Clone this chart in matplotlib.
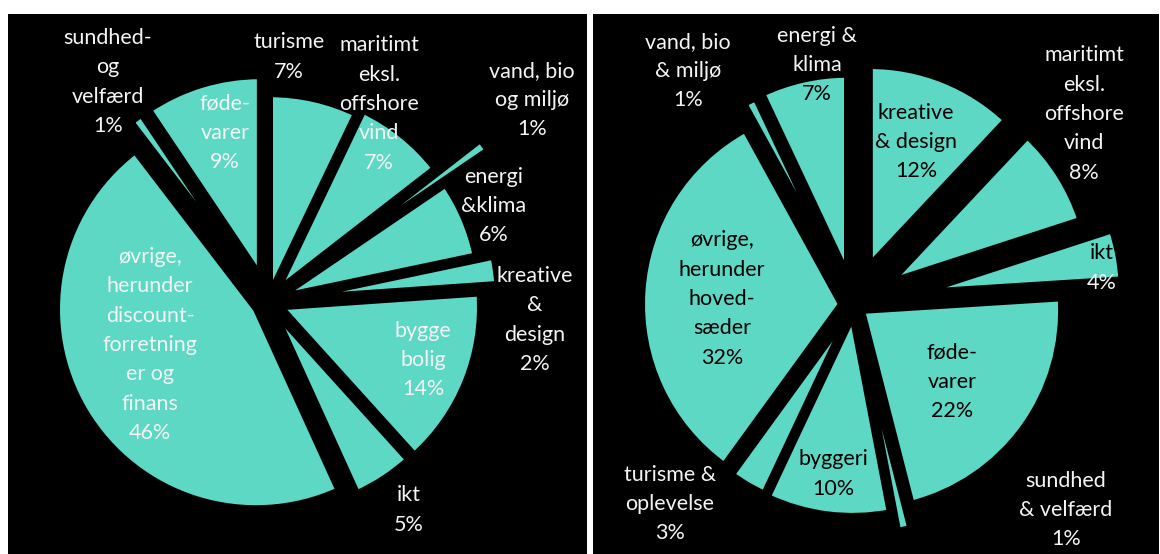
import matplotlib
matplotlib.use("Agg")
import matplotlib.pyplot as plt

plt.rcParams['font.family'] = ['Lato', 'DejaVu Sans']

# left chart (clockwise from 12 o'clock)
left_names = ["turisme", "maritimt\neksl.\noffshore\nvind", "vand, bio\nog miljø",
              "energi\n&klima", "kreative\n&\ndesign", "bygge\nbolig", "ikt",
              "øvrige,\nherunder\ndiscount-\nforretning\ner og\nfinans",
              "sundhed-\nog\nvelfærd", "føde-\nvarer"]
left_values = [7.1, 7.4, 1.0, 6.2, 2.2, 14.4, 4.9, 46.4, 1.0, 9.4]

# right chart (clockwise from 12 o'clock)
right_names = ["kreative\n& design", "maritimt\neksl.\noffshore\nvind", "ikt",
               "føde-\nvarer", "sundhed\n& velfærd", "byggeri", "turisme &\noplevelse",
               "øvrige,\nherunder\nhoved-\nsæder", "vand, bio\n& miljø", "energi &\nklima"]
right_values = [12, 8, 4, 22, 1, 10, 3, 32, 1, 7]

teal = '#5cd8c4'
W, H = 1160, 554
R = 199.0          # pie radius in pixels
lw_px = 6          # black border round each slice
line_h = 29.3      # label line spacing in pixels

# layout, in image pixels
left_panel = (8, 14, 587, 554)
right_panel = (593, 14, 1159, 554)
left_center = (268, 302)
right_center = (854, 305)
left_explode = [9, 15, 68, 14, 31, 14, 12, 14, 27, 28]
right_explode = [43, 44, 70, 10, 31, 12, 10, 13, 30, 32]
left_pos = [(289, 57), (379, 104), (532, 100), (494, 206), (535, 320), (423, 360),
            (409, 510), (150, 345), (108, 82), (225, 133)]
right_pos = [(916, 142), (1084, 114), (1102, 268), (952, 382), (1066, 510),
             (833, 474), (670, 504), (722, 299), (688, 71), (817, 65)]

fig = plt.figure(figsize=(W / 100, H / 100), dpi=100, facecolor='white')


def draw_pie(panel, center, values, names, explode, pos, dark_inside):
    x0, y0, x1, y1 = panel
    cx, cy = center
    ax = fig.add_axes([x0 / W, 1 - y1 / H, (x1 - x0) / W, (y1 - y0) / H])
    wedges, _ = ax.pie(values, explode=[e / R for e in explode], radius=1,
                       startangle=90, counterclock=False, colors=[teal] * len(values),
                       wedgeprops=dict(edgecolor='black', linewidth=lw_px * 0.72,
                                       joinstyle='round'))
    ax.set_frame_on(True)
    ax.set_facecolor('black')
    for s in ax.spines.values():
        s.set_visible(False)
    ax.set_xticks([])
    ax.set_yticks([])
    ax.set_xlim((x0 - cx) / R, (x1 - cx) / R)
    ax.set_ylim((cy - y1) / R, (cy - y0) / R)
    ax.set_aspect('equal')

    paths = [w.get_path().transformed(w.get_patch_transform()) for w in wedges]

    for name, v, (px, py) in zip(names, values, pos):
        lines = (name + "\n" + f"{v:.0f}%").split("\n")
        n = len(lines)
        for i, line in enumerate(lines):
            ly = py + (i - (n - 1) / 2) * line_h
            tx, ty = (px - cx) / R, (cy - ly) / R
            col = '#f4f4f4'
            # black text where the line sits on a slice (right chart only)
            if dark_inside and any(p.contains_point((tx, ty)) for p in paths):
                col = 'black'
            ax.text(tx, ty, line, color=col, ha='center', va='center', fontsize=15.5)
    return ax


draw_pie(left_panel, left_center, left_values, left_names, left_explode, left_pos, False)
draw_pie(right_panel, right_center, right_values, right_names, right_explode, right_pos, True)

fig.savefig('out.png', dpi=100, facecolor='white')
